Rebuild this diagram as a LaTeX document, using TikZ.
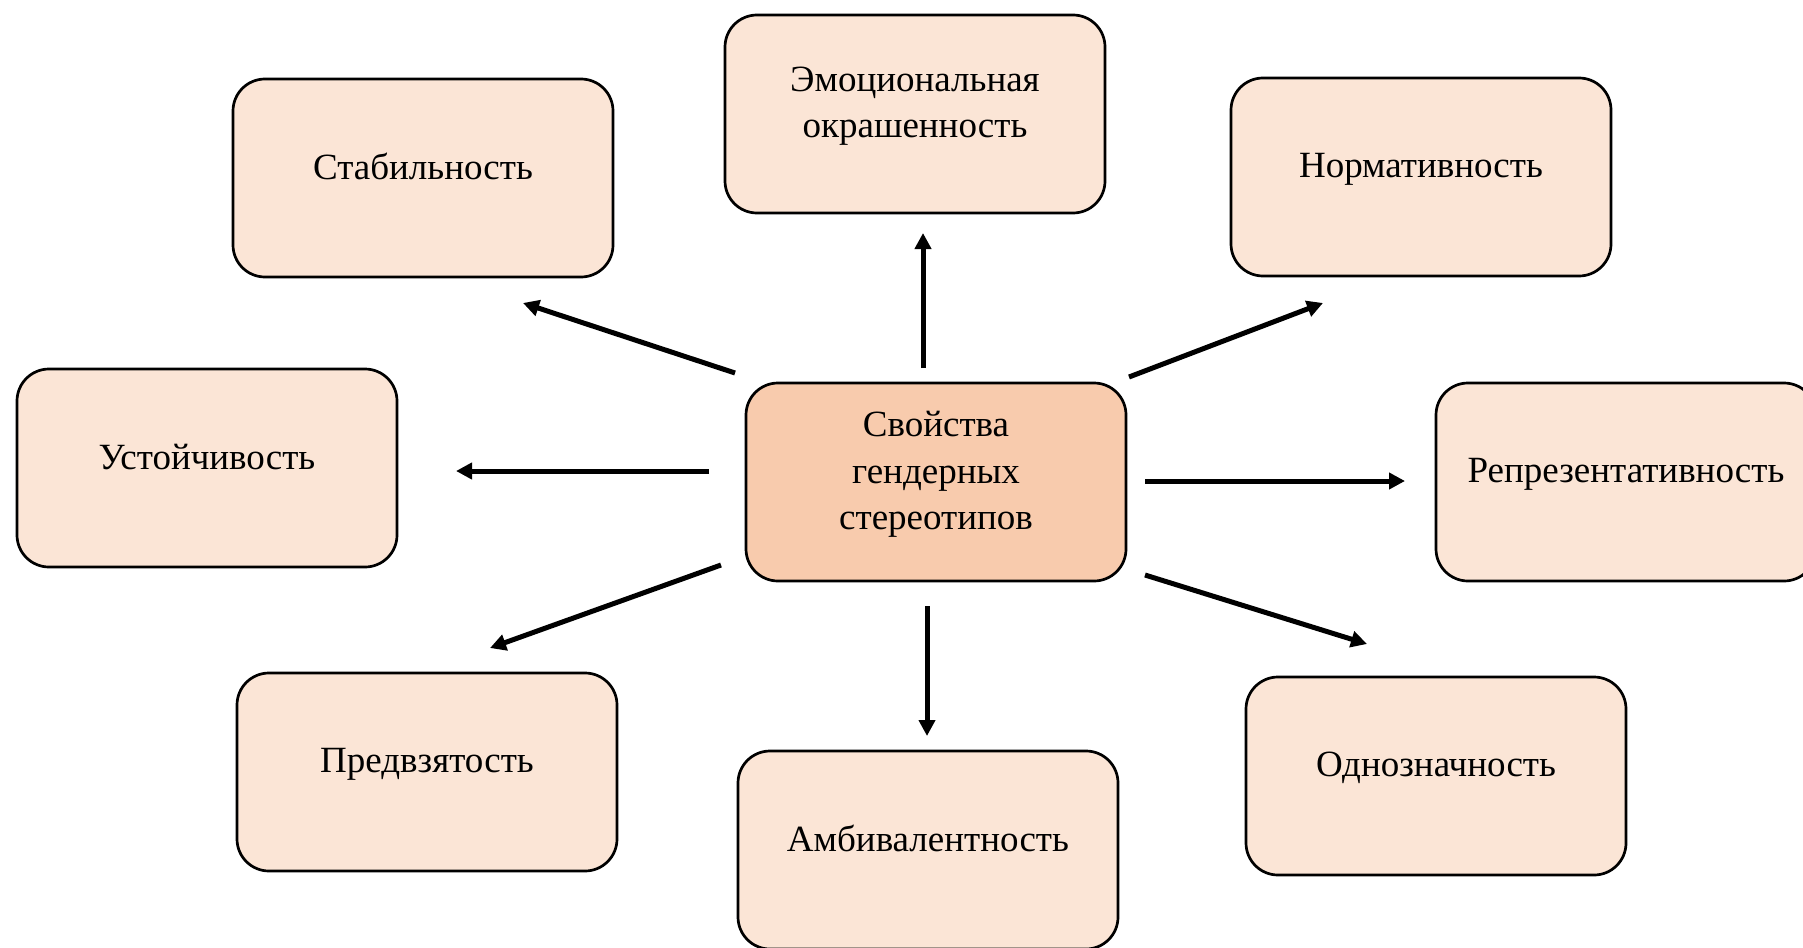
\documentclass[tikz,border=0pt]{standalone}
\usepackage{fontspec}
\setmainfont{Liberation Serif}
\usepackage{xcolor}
\usetikzlibrary{positioning,arrows.meta}
\definecolor{boxfill}{HTML}{FBE5D6}
\definecolor{mainfill}{HTML}{F8CBAD}
\newcommand{\lstrut}{\rule[-23pt]{0pt}{46pt}}
\tikzset{
	prop/.style={draw, line width=2.7pt, rounded corners=32pt, fill=boxfill,
		minimum width=380pt, minimum height=198pt, inner sep=0pt, align=center,
		font=\fontsize{37}{46.5}\selectfont},
	mainprop/.style={prop, fill=mainfill},
	arr/.style={line width=5pt, -{Triangle[length=16pt,width=16pt]}}
}
\begin{document}
\begin{tikzpicture}[x=1pt, y=-1pt]
			\useasboundingbox (0,0) rectangle (1803,947);
			\node [mainprop] (main) at (936,482) {Свойства\lstrut\\гендерных\lstrut\\стереотипов\lstrut};
			\node [prop] (stab) at (423,178) {Стабильность\lstrut};
			\node [prop] (emo) at (915,114) {Эмоциональная\lstrut\\окрашенность\lstrut};
			\node [prop] (norm) at (1421,177) {Нормативность\lstrut};
			\node [prop] (ust) at (207,468) {Устойчивость\lstrut};
			\node [prop] (repr) at (1626,482) {Репрезентативность\lstrut};
			\node [prop] (pred) at (427,772) {Предвзятость\lstrut};
			\node [prop] (amb) at (928,850) {Амбивалентность\lstrut};
			\node [prop] (odn) at (1436,776) {Однозначность\lstrut};
			% free ends of the arrows
			\coordinate (emo-s) at (923,368);
			\coordinate (emo-e) at (923,233);
			\coordinate (stab-s) at (735,373);
			\coordinate (stab-e) at (523,303);
			\coordinate (norm-s) at (1129,377);
			\coordinate (norm-e) at (1323,303);
			\coordinate (ust-s) at (709,471);
			\coordinate (ust-e) at (456,471);
			\coordinate (repr-s) at (1145,481);
			\coordinate (repr-e) at (1405,481);
			\coordinate (pred-s) at (721,565);
			\coordinate (pred-e) at (490,648);
			\coordinate (amb-s) at (927,606);
			\coordinate (amb-e) at (927,736);
			\coordinate (odn-s) at (1145,575);
			\coordinate (odn-e) at (1367,644);
			\draw [arr] (emo-s) -- (emo-e);
			\draw [arr] (stab-s) -- (stab-e);
			\draw [arr] (norm-s) -- (norm-e);
			\draw [arr] (ust-s) -- (ust-e);
			\draw [arr] (repr-s) -- (repr-e);
			\draw [arr] (pred-s) -- (pred-e);
			\draw [arr] (amb-s) -- (amb-e);
			\draw [arr] (odn-s) -- (odn-e);
		\end{tikzpicture}
\end{document}
